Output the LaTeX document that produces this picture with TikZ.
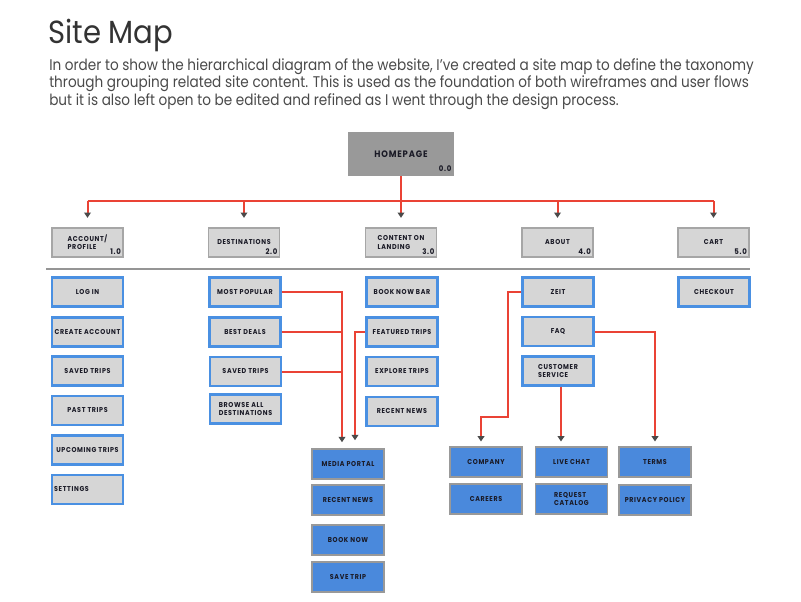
\documentclass[tikz,border=0pt]{standalone}
\usepackage{fontspec}
\setmainfont{Poppins}
\newfontfamily\headfont{Poppins}[FakeStretch=0.88]
\newfontfamily\titlefont{Poppins}[FakeStretch=0.91]
\newfontfamily\boxfont{Poppins}[FakeStretch=0.9, LetterSpace=9]
\usetikzlibrary{arrows.meta,positioning}
\definecolor{wirered}{HTML}{EA4335}
\definecolor{tipgray}{HTML}{4A4A4A}
\definecolor{boxgray}{HTML}{D6D6D6}
\definecolor{homegray}{HTML}{999999}
\definecolor{edgegray}{HTML}{A6A6A6}
\definecolor{pageblue}{HTML}{4A90E2}
\definecolor{subblue}{HTML}{4A89DC}
\definecolor{textdark}{HTML}{1A1A26}
\definecolor{paragray}{HTML}{4A4A4A}

\begin{document}
\begin{tikzpicture}[x=0.75pt,y=-0.75pt,
  every node/.style={font=\boxfont\bfseries\fontsize{5.3}{6.2}\selectfont, text=textdark, inner sep=1.2pt},
  homebox/.style={fill=homegray, minimum width=79.5pt, minimum height=33pt, font=\boxfont\bfseries\fontsize{7}{8}\selectfont},
  levelbox/.style={fill=boxgray, draw=edgegray, line width=1.2pt, minimum width=53.25pt, minimum height=21.75pt, align=left},
  pagebox/.style={fill=boxgray, draw=pageblue, line width=1.6pt, minimum width=53.25pt, minimum height=21.75pt, align=left},
  subbox/.style={fill=subblue, draw=gray!80, line width=1.2pt, minimum width=54pt, minimum height=22.5pt, align=left},
  numtag/.style={inner sep=0pt, anchor=south east, font=\boxfont\bfseries\fontsize{5.8}{6.2}\selectfont},
  wire/.style={draw=wirered, line width=1.5pt},
  link/.style={wire, -{Triangle[length=4pt,width=5pt,color=tipgray]}, shorten >=3.5pt}]
\fill[white] (0,0) rectangle (801,601);
\useasboundingbox (0,0) rectangle (801,601);

% heading
\node[font=\titlefont\fontsize{24}{28}\selectfont, text=black!80, anchor=base west, inner sep=0pt] (title) at (48,43) {Site Map};
\node[font=\headfont\fontsize{11.6}{13}\selectfont, text=paragray, anchor=base west, inner sep=0pt] (para1) at (49,70) {In order to show the hierarchical diagram of the website, I’ve created a site map to define the taxonomy};
\node[font=\headfont\fontsize{11.6}{13}\selectfont, text=paragray, anchor=base west, inner sep=0pt] (para2) at (49,87.5) {through grouping related site content. This is used as the foundation of both wireframes and user flows};
\node[font=\headfont\fontsize{11.6}{13}\selectfont, text=paragray, anchor=base west, inner sep=0pt] (para3) at (49,105) {but it is also left open to be edited and refined as I went through the design process.};

% top levels
\node[homebox] (home) at (401,154) {HOMEPAGE};
\node[numtag] at ([shift={(-2pt,3pt)}]home.south east) {0.0};
\node[levelbox] (acct) at (87.5,242.5) {ACCOUNT/\\PROFILE};
\node[levelbox] (dest) at (244,242.5) {DESTINATIONS};
\node[levelbox] (cont) at (401,242.5) {CONTENT ON\\LANDING};
\node[levelbox] (about) at (557.5,242.5) {ABOUT};
\node[levelbox] (cart) at (713.5,242.5) {CART};
\node[numtag] at ([shift={(-2pt,2pt)}]acct.south east) {1.0};
\node[numtag] at ([shift={(-2pt,2pt)}]dest.south east) {2.0};
\node[numtag] at ([shift={(-2pt,2pt)}]cont.south east) {3.0};
\node[numtag] at ([shift={(-2pt,2pt)}]about.south east) {4.0};
\node[numtag] at ([shift={(-2pt,2pt)}]cart.south east) {5.0};

\coordinate (bar) at (401,201);
\draw[wire] (home.south) -- (bar);
\draw[wire] (acct.north |- bar) -- (cart.north |- bar);
\foreach \n in {acct,dest,cont,about,cart}
  \draw[link, shorten >=7pt] (\n.north |- bar) -- (\n.north);

\draw[edgegray!90!black, line width=1.5pt] (46,269) -- (750,269);

% pages
\node[pagebox] (login) at (87.5,292) {LOG IN};
\node[pagebox] (create) at (87.5,332) {CREATE ACCOUNT};
\node[pagebox] (saved) at (87.5,371) {SAVED TRIPS};
\node[pagebox] (past) at (87.5,410.5) {PAST TRIPS};
\node[pagebox] (upcoming) at (87.5,450) {UPCOMING TRIPS};
\node[pagebox, text width=50pt] (settings) at (87.5,489.5) {SETTINGS};

\node[pagebox] (popular) at (245,292) {MOST POPULAR};
\node[pagebox] (deals) at (245,332) {BEST DEALS};
\node[pagebox] (dsaved) at (245.5,371.5) {SAVED TRIPS};
\node[pagebox] (browse) at (245.5,409) {BROWSE ALL\\DESTINATIONS};

\node[pagebox] (booknow) at (402,292) {BOOK NOW BAR};
\node[pagebox] (featured) at (402,332) {FEATURED TRIPS};
\node[pagebox] (explore) at (402,371.5) {EXPLORE TRIPS};
\node[pagebox] (cnews) at (402,411.5) {RECENT NEWS};

\node[pagebox] (zeit) at (558,292) {ZEIT};
\node[pagebox] (faq) at (558,331.5) {FAQ};
\node[pagebox] (service) at (558,371) {CUSTOMER\\SERVICE};

\node[pagebox] (checkout) at (714,292) {CHECKOUT};

% sub pages
\node[subbox] (media) at (348,464) {MEDIA PORTAL};
\node[subbox] (rnews) at (348,500) {RECENT NEWS};
\node[subbox] (book) at (348,540) {BOOK NOW};
\node[subbox] (savetrip) at (348,577) {SAVE TRIP};

\node[subbox] (company) at (486,462) {COMPANY};
\node[subbox] (careers) at (486,499) {CAREERS};
\node[subbox] (chat) at (571.5,462) {LIVE CHAT};
\node[subbox] (catalog) at (571.5,499) {REQUEST\\CATALOG};
\node[subbox] (terms) at (655,462) {TERMS};
\node[subbox] (privacy) at (655,500) {PRIVACY POLICY};

% links
\coordinate (mleft) at ([xshift=-4.5pt]media.north);
\coordinate (mright) at ([xshift=5.25pt]media.north);
\draw[link, shorten >=4.5pt] (popular.east) -| (mleft);
\draw[wire] (deals.east) -- (deals.east -| mleft);
\draw[wire] (dsaved.east) -- (dsaved.east -| mleft);
\draw[link, shorten >=6pt] (featured.west) -| (mright);
\draw[link] (zeit.west) -| (508,417) -| ([xshift=-3.75pt]company.north);
\draw[link] (faq.east) -| (terms.north);
\draw[link] ([xshift=2.25pt]service.south) -- ([xshift=2.25pt]service.south |- chat.north);
\end{tikzpicture}
\end{document}
